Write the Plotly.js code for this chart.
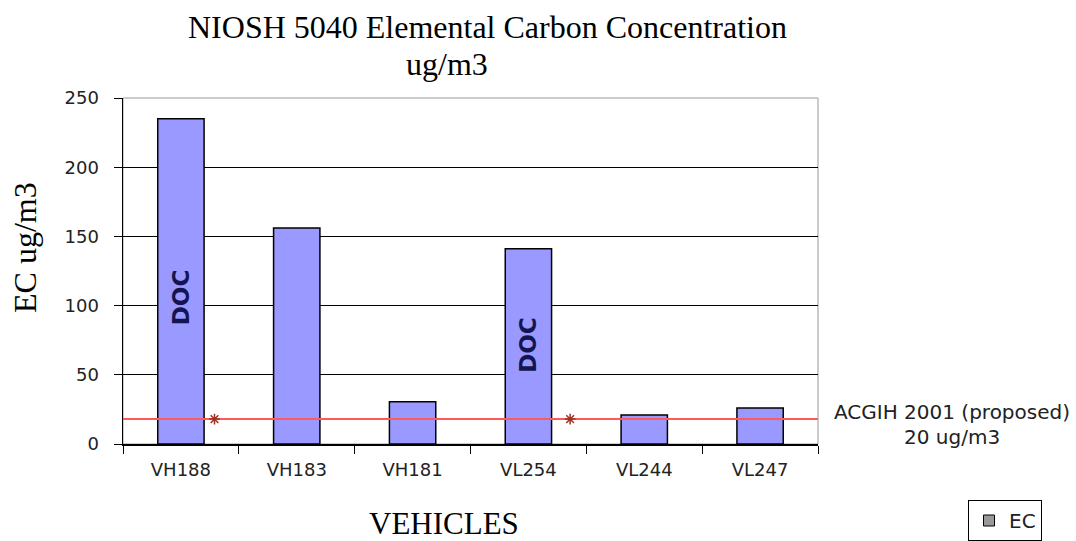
<!DOCTYPE html>
<html>
<head>
<meta charset="utf-8">
<script src="https://cdn.plot.ly/plotly-3.0.1.min.js"></script>
<style>html,body{margin:0;padding:0;background:#fff;}#chart{width:1076px;height:541px;}</style>
</head>
<body>
<div id="chart"></div>
<script>
const vehicles = ["VH188", "VH183", "VH181", "VL254", "VL244", "VL247"];
const ecValues = [235, 156, 30.5, 141, 21, 26];
const limitValue = 18;
const limitX = [0, 6];
const limitMarkerX = [0.79, 3.86];
const docLabels = [{x: "VH188", y: 106}, {x: "VL254", y: 72}];

const serif = "Liberation Serif, Times New Roman, serif";
const sans = "DejaVu Sans, Verdana, sans-serif";

const traces = [
  {
    type: "bar", x: vehicles, y: ecValues, name: "EC", showlegend: false,
    marker: {color: "#9999ff", line: {color: "#000", width: 1.5}},
    hoverinfo: "x+y"
  },
  {
    type: "scatter", mode: "lines", x: limitX, y: [limitValue, limitValue],
    xaxis: "x2", yaxis: "y", showlegend: false,
    line: {color: "#ff5a5a", width: 2}
  },
  {
    type: "scatter", mode: "markers", x: limitMarkerX, y: limitMarkerX.map(() => limitValue),
    xaxis: "x2", yaxis: "y", showlegend: false,
    marker: {symbol: "asterisk-open", size: 9, color: "#a03020", line: {color: "#a03020", width: 1.5}}
  },
  {
    type: "scatter", mode: "markers", x: [null], y: [null], name: "EC",
    xaxis: "x2", yaxis: "y",
    marker: {symbol: "square", size: 11, color: "#999999", line: {color: "#000", width: 1}}
  }
];

const px = v => (v - 123) / 695;
const py = v => (444 - v) / 346;

const annotations = [
  {text: "NIOSH 5040 Elemental Carbon Concentration", xref: "paper", yref: "paper",
   x: px(488), y: py(27), xanchor: "center", yanchor: "middle", showarrow: false,
   font: {family: serif, size: 32, color: "#000"}},
  {text: "ug/m3", xref: "paper", yref: "paper",
   x: px(447), y: py(64), xanchor: "center", yanchor: "middle", showarrow: false,
   font: {family: serif, size: 32, color: "#000"}},
  {text: "EC ug/m3", xref: "paper", yref: "paper", textangle: -90,
   x: px(25), y: py(248), xanchor: "center", yanchor: "middle", showarrow: false,
   font: {family: serif, size: 32, color: "#000"}},
  {text: "VEHICLES", xref: "paper", yref: "paper",
   x: px(444), y: py(523), xanchor: "center", yanchor: "middle", showarrow: false,
   font: {family: serif, size: 31, color: "#000"}},
  {text: "ACGIH 2001 (proposed)", xref: "paper", yref: "paper",
   x: px(952), y: py(412), xanchor: "center", yanchor: "middle", showarrow: false,
   font: {family: sans, size: 20, color: "#222"}},
  {text: "20 ug/m3", xref: "paper", yref: "paper",
   x: px(952), y: py(437), xanchor: "center", yanchor: "middle", showarrow: false,
   font: {family: sans, size: 20, color: "#222"}}
];
docLabels.forEach(d => annotations.push({
  text: "<b>DOC</b>", x: d.x, y: d.y, xref: "x", yref: "y", textangle: -90, showarrow: false,
  font: {family: "DejaVu Sans, Arial, sans-serif", size: 23, color: "#141450"}
}));

const layout = {
  width: 1076, height: 541,
  margin: {l: 123, r: 258, t: 98, b: 97, pad: 0, autoexpand: false},
  paper_bgcolor: "#fff", plot_bgcolor: "#fff",
  showlegend: true,
  legend: {xref: "container", yref: "container", x: 968 / 1076, y: 1 - 500 / 541, xanchor: "left", yanchor: "top",
    bordercolor: "#000", borderwidth: 1, bgcolor: "#fff",
    font: {family: sans, size: 20, color: "#222"},
    itemwidth: 30, tracegroupgap: 0},
  bargap: 0.6,
  xaxis: {
    type: "category", tickson: "boundaries", ticks: "outside", ticklen: 8, tickcolor: "#000",
    showline: true, linecolor: "#000", linewidth: 1.5, showgrid: false, automargin: false,
    ticklabelstandoff: 9,
    tickfont: {family: sans, size: 18, color: "#222"}
  },
  xaxis2: {overlaying: "x", range: [0, 6], visible: false, fixedrange: true},
  yaxis: {
    range: [0, 250], dtick: 50, ticks: "outside", ticklen: 8, tickcolor: "#000",
    showline: true, linecolor: "#000", linewidth: 1.5, automargin: false,
    showgrid: true, gridcolor: "#000", gridwidth: 1, zeroline: false,
    ticklabelstandoff: 11,
    tickfont: {family: sans, size: 18, color: "#222"}
  },
  shapes: [
    {type: "rect", xref: "paper", yref: "paper", x0: 0, x1: 1, y0: 0, y1: 1,
     line: {color: "#999", width: 1}, layer: "below"}
  ],
  annotations: annotations
};

Plotly.newPlot("chart", traces, layout, {displayModeBar: false, staticPlot: true});
</script>
</body>
</html>
